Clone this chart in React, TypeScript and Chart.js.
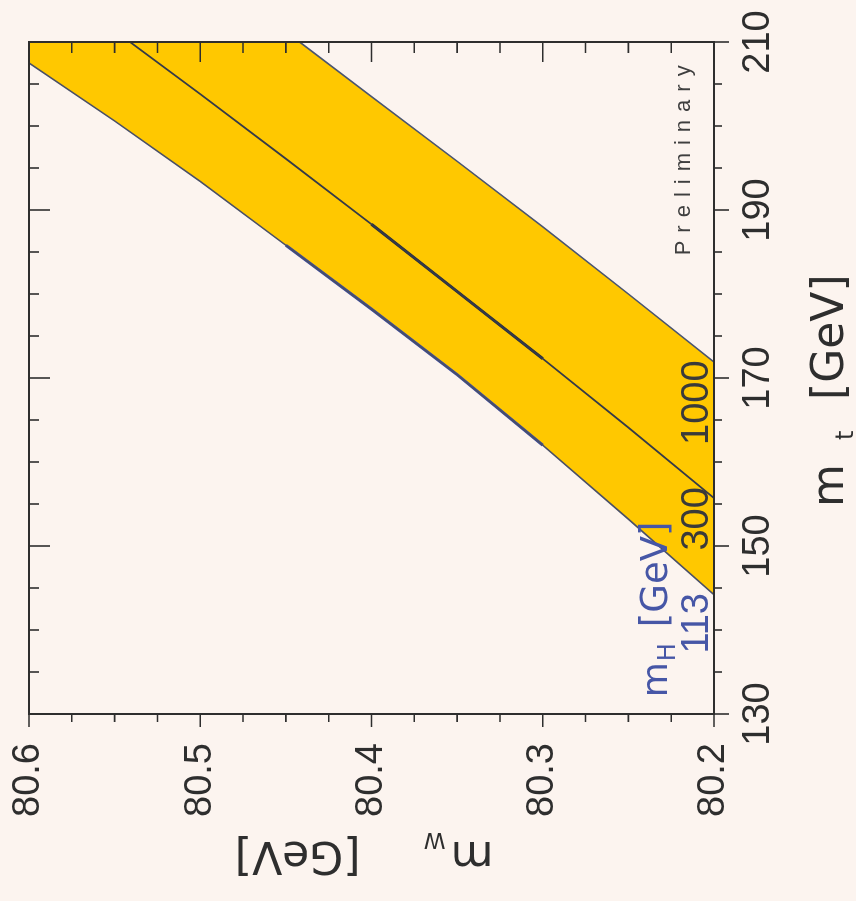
import React, { useEffect, useRef } from 'react';
import { Chart, registerables } from 'chart.js';
Chart.register(...registerables);

// m_t axis (GeV) and m_W axis (GeV)
const mtTicks = [130, 150, 170, 190, 210];
const mtMinorTicks = [135, 140, 145, 155, 160, 165, 175, 180, 185, 195, 200, 205];
const mwTicks = [80.2, 80.3, 80.4, 80.5, 80.6];
const mwMinorTicks = [80.225, 80.25, 80.275, 80.325, 80.35, 80.375, 80.425, 80.45, 80.475, 80.525, 80.55, 80.575];

// SM prediction curves m_W(m_t) for three Higgs masses
const mt113 = [144.2, 153.2, 162.0, 170.4, 178.2, 185.8, 193.4, 200.6, 207.5];
const mw113 = [80.2, 80.25, 80.3, 80.35, 80.4, 80.45, 80.5, 80.55, 80.6];
const mt300 = [155.7, 164.1, 172.3, 180.3, 188.3, 196.1, 203.8, 210];
const mw300 = [80.2, 80.25, 80.3, 80.35, 80.4, 80.45, 80.5, 80.541];
const mt1000 = [171.9, 180.0, 188.0, 195.8, 203.5, 210];
const mw1000 = [80.2, 80.25, 80.3, 80.35, 80.4, 80.442];

const higgsLabels = ['113', '300', '1000'];
const higgsLabelMt = [144.4, 157.0, 172.1];
const mhLabelAt = { mt: 132.0, mw: 80.2275 };
const prelimAt = { mt: 184.6, mw: 80.214 };

const BG = '#fcf4ef';
const YELLOW = '#ffc800';
const INK = '#2e2e2e';
const BLUE = '#4656a6';
const SANS = '"Liberation Sans", Arial, sans-serif';
const WIDE = '"DejaVu Sans", sans-serif';

const pts = (xs: number[], ys: number[]) => xs.map((x, i) => ({ x, y: ys[i] }));

const frameTicks = {
  id: 'frameTicks',
  afterDatasetsDraw(chart: any) {
    const { ctx, chartArea: a, scales } = chart;
    const x = scales.x, y = scales.y;
    ctx.save();
    ctx.strokeStyle = INK;
    ctx.lineWidth = 2;
    ctx.strokeRect(a.left, a.top, a.right - a.left, a.bottom - a.top);
    ctx.lineWidth = 1.6;
    ctx.beginPath();
    const mtAll = [...mtTicks.map(v => [v, 1]), ...mtMinorTicks.map(v => [v, 0])];
    for (const [v, major] of mtAll) {
      const px = x.getPixelForValue(v);
      ctx.moveTo(px, a.bottom);
      ctx.lineTo(px, a.bottom + (major ? 15 : 8));
      ctx.moveTo(px, a.top);
      ctx.lineTo(px, a.top + (major ? 21 : 10));
    }
    const mwAll = [...mwTicks.map(v => [v, 1]), ...mwMinorTicks.map(v => [v, 0])];
    for (const [v, major] of mwAll) {
      const py = y.getPixelForValue(v);
      ctx.moveTo(a.left, py);
      ctx.lineTo(a.left - (major ? 13 : 8), py);
      ctx.moveTo(a.right, py);
      ctx.lineTo(a.right - (major ? 20 : 11), py);
    }
    ctx.stroke();
    ctx.restore();
  },
};

const annotations = {
  id: 'annotations',
  afterDraw(chart: any) {
    const { ctx, chartArea: a, scales } = chart;
    const x = scales.x, y = scales.y;
    ctx.save();
    ctx.textBaseline = 'alphabetic';
    ctx.textAlign = 'left';
    ctx.fillStyle = INK;

    // x title: m_t [GeV]
    const cx = (a.left + a.right) / 2;
    const by = a.bottom + 129;
    ctx.font = `44px ${WIDE}`;
    ctx.fillText('m', cx - 129, by);
    ctx.font = `24px ${WIDE}`;
    ctx.fillText('t', cx - 62, by + 10);
    ctx.font = `44px ${WIDE}`;
    ctx.fillText('[GeV]', cx - 22, by);

    // y title: m_W [GeV]
    const cy = (a.top + a.bottom) / 2;
    ctx.save();
    ctx.translate(a.left - 128, cy + 122);
    ctx.rotate(-Math.PI / 2);
    ctx.font = `44px ${WIDE}`;
    ctx.fillText('m', 0, 0);
    ctx.font = `22px ${WIDE}`;
    ctx.fillText('W', 48, 9);
    ctx.font = `44px ${WIDE}`;
    ctx.fillText('[GeV]', 133, 0);
    ctx.restore();

    // Higgs mass labels
    ctx.textAlign = 'right';
    ctx.font = `38px ${SANS}`;
    higgsLabels.forEach((t, i) => {
      ctx.fillStyle = i === 0 ? BLUE : '#3a3a3a';
      ctx.fillText(t, x.getPixelForValue(higgsLabelMt[i]), a.bottom - 6);
    });

    // m_H [GeV]
    ctx.textAlign = 'left';
    ctx.fillStyle = BLUE;
    const hx = x.getPixelForValue(mhLabelAt.mt);
    const hy = y.getPixelForValue(mhLabelAt.mw);
    ctx.font = `36px ${WIDE}`;
    ctx.fillText('m', hx, hy);
    const mw = ctx.measureText('m').width;
    ctx.font = `24px ${WIDE}`;
    ctx.fillText('H', hx + mw + 1, hy + 8);
    ctx.font = `37px ${WIDE}`;
    ctx.fillText('[GeV]', hx + 70, hy);

    // Preliminary
    ctx.fillStyle = '#3f3f3f';
    ctx.font = `22px ${SANS}`;
    (ctx as any).letterSpacing = '8px';
    ctx.fillText('Preliminary', x.getPixelForValue(prelimAt.mt), y.getPixelForValue(prelimAt.mw));
    (ctx as any).letterSpacing = '0px';
    ctx.restore();
  },
};

export default function App() {
  const ref = useRef<HTMLCanvasElement>(null);
  useEffect(() => {
    const canvas = ref.current!;
    const X_MAX = mtTicks[mtTicks.length - 1];
    const Y_MAX = mwTicks[mwTicks.length - 1];
    const band = [...pts(mt113, mw113), { x: X_MAX, y: Y_MAX }, ...pts(mt1000, mw1000).reverse()];
    const line = (data: any[], color: string, w: number) => ({
      data, showLine: true, fill: false, borderColor: color, borderWidth: w, pointRadius: 0, order: 0,
    });
    const chart = new Chart(canvas, {
      type: 'scatter',
      data: {
        datasets: [
          { data: band, showLine: true, fill: 'shape', backgroundColor: YELLOW, borderColor: 'rgba(0,0,0,0)', borderWidth: 0, pointRadius: 0, order: 5 } as any,
          line(pts(mt113, mw113), '#4a5066', 1.6),
          line(pts(mt300, mw300), '#353a48', 1.8),
          line(pts(mt1000, mw1000), '#4a5570', 1.6),
          line(pts(mt113.slice(2, 6), mw113.slice(2, 6)), '#3b4a9e', 3),
          line(pts(mt300.slice(2, 5), mw300.slice(2, 5)), '#2a2f3e', 3),
        ],
      },
      options: {
        animation: false,
        responsive: false,
        devicePixelRatio: 1,
        events: [],
        layout: { padding: { top: 29, right: 42, left: 0, bottom: 0 } },
        plugins: { legend: { display: false }, tooltip: { enabled: false } },
        scales: {
          x: {
            type: 'linear',
            min: mtTicks[0],
            max: X_MAX,
            afterBuildTicks: (s: any) => { s.ticks = mtTicks.map(v => ({ value: v })); },
            afterFit: (s: any) => { s.height = 142; s.paddingLeft = 0; s.paddingRight = 0; },
            grid: { display: false, drawTicks: false },
            border: { display: false },
            ticks: {
              autoSkip: false, maxRotation: 0, minRotation: 0, padding: 22,
              color: INK, font: { family: SANS, size: 38 },
              callback: (v: any) => String(v),
            },
          },
          y: {
            type: 'linear',
            min: mwTicks[0],
            max: Y_MAX,
            afterBuildTicks: (s: any) => { s.ticks = mwTicks.map(v => ({ value: v })); },
            afterFit: (s: any) => { s.width = 187; s.paddingTop = 0; s.paddingBottom = 0; },
            grid: { display: false, drawTicks: false },
            border: { display: false },
            ticks: {
              autoSkip: false, padding: 29,
              color: INK, font: { family: SANS, size: 38 },
              callback: (v: any) => Number(v).toFixed(1),
            },
          },
        },
      } as any,
      plugins: [frameTicks, annotations],
    });
    return () => chart.destroy();
  }, []);

  return (
    <div style={{ position: 'fixed', left: 0, top: 0, width: 856, height: 901, background: BG, overflow: 'hidden' }}>
      <div style={{ position: 'absolute', left: 0, top: 0, width: 901, height: 856, transformOrigin: '0 0', transform: 'translateY(901px) rotate(-90deg)' }}>
        <canvas ref={ref} width={901} height={856} style={{ display: 'block', width: 901, height: 856 }} />
      </div>
    </div>
  );
}
